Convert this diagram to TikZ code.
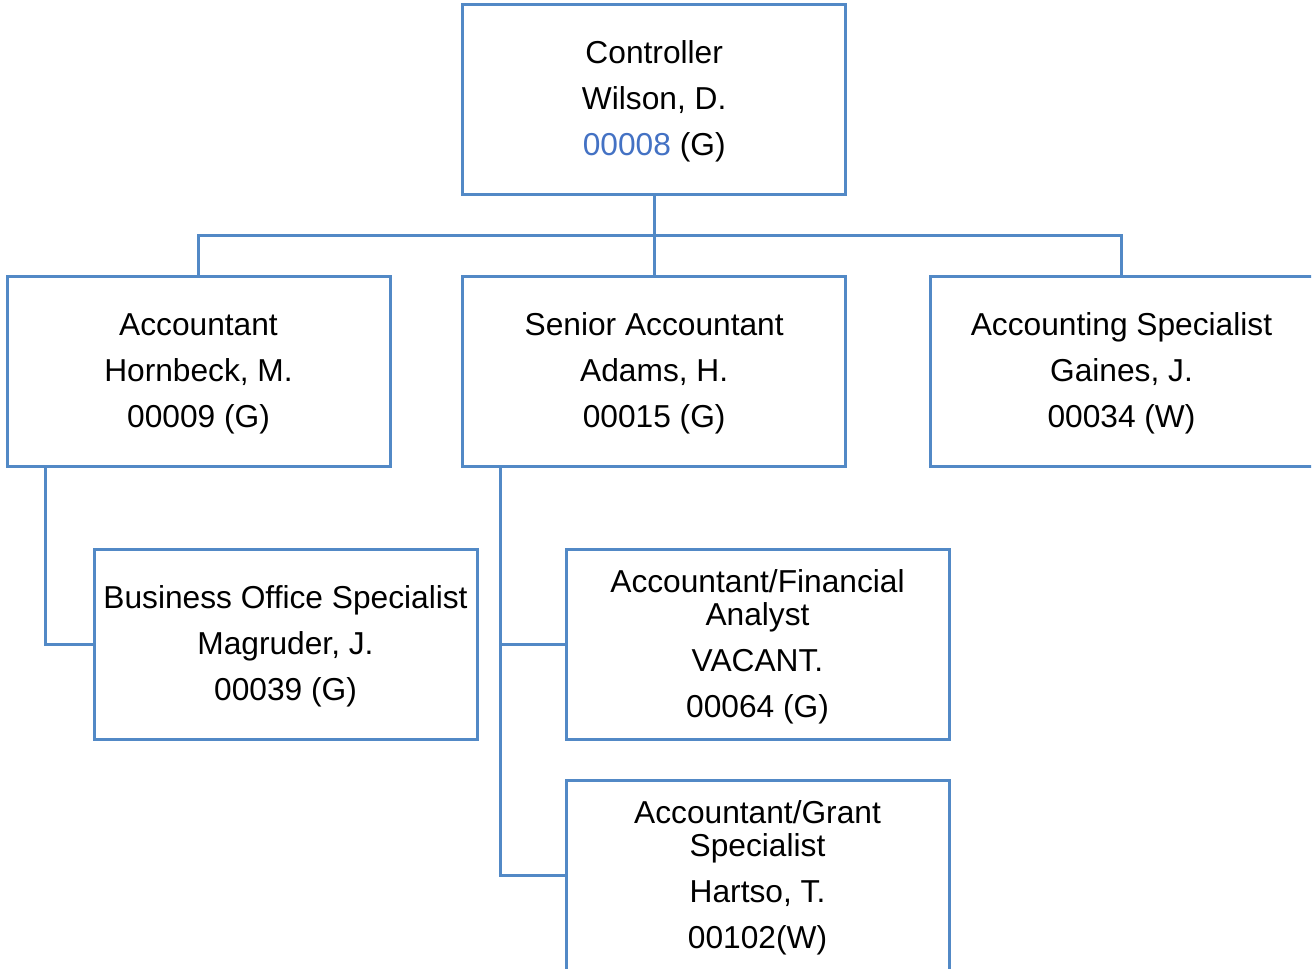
\documentclass[tikz,border=0pt]{standalone}
\usepackage{fontspec}
\setmainfont{Liberation Sans}
\usetikzlibrary{calc}
\definecolor{linec}{RGB}{82,137,198}
\definecolor{numc}{RGB}{68,114,196}
\newcommand\tstrut{\rule{0pt}{28pt}}
\begin{document}
\begin{tikzpicture}[x=1pt,y=-1pt,
  orgbox/.style={draw=linec, line width=3pt, fill=white, minimum width=383pt,
    minimum height=190pt, inner sep=0pt, outer sep=0pt, align=center,
    font=\fontsize{31.7}{46}\selectfont},
  conn/.style={draw=linec, line width=3pt}]
\useasboundingbox (0,0) rectangle (1312,970);
\fill[white] (0,0) rectangle (1312,970);
\clip (0,0) rectangle (1311.2,968.2);
\node[orgbox] (ctrl)   at (654.2,99) {\tstrut Controller\\Wilson, D.\\\textcolor{numc}{00008} (G)};
\node[orgbox] (acct)   at (198.5,371) {\tstrut Accountant\\Hornbeck, M.\\00009 (G)};
\node[orgbox] (senior) at (654.2,371) {\tstrut Senior Accountant\\Adams, H.\\00015 (G)};
\node[orgbox] (spec)   at (1121.5,371) {\tstrut Accounting Specialist\\Gaines, J.\\00034 (W)};
\node[orgbox] (bo)     at (285.5,644) {\tstrut Business Office Specialist\\Magruder, J.\\00039 (G)};
\node[orgbox] (fin)    at (757.5,644) {\tstrut Accountant/Financial\\[-13pt]Analyst\\VACANT.\\00064 (G)};
\node[orgbox] (grant)  at (757.5,875) {\tstrut Accountant/Grant\\[-13pt]Specialist\\Hartso, T.\\00102(W)};
\coordinate (bus) at ($(ctrl.south)!0.5!(senior.north)$);
\coordinate (a1) at ([xshift=38pt]acct.south west);
\coordinate (s1) at ([xshift=37.5pt]senior.south west);
\draw[conn] (ctrl.south) -- (senior.north);
\draw[conn] (acct.north) |- (bus) -| (spec.north);
\draw[conn] (a1) |- (bo.west);
\draw[conn] (s1) |- (fin.west);
\draw[conn] (s1) |- (grant.west);
\end{tikzpicture}
\end{document}
